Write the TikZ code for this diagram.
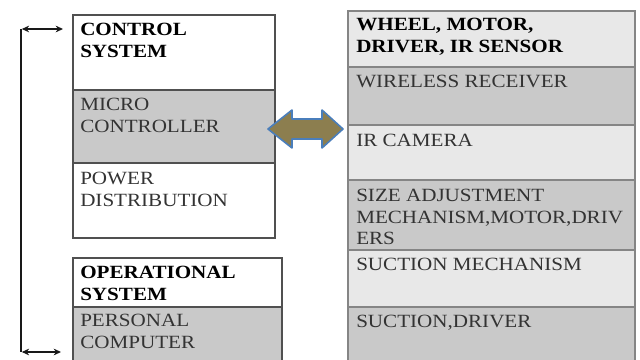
\documentclass[tikz,border=0pt]{standalone}
\usepackage{fontspec}
\setmainfont{Liberation Serif}[FakeStretch=1.13]
\usetikzlibrary{fit,arrows.meta}
\definecolor{lightc}{HTML}{E8E8E8}
\definecolor{darkc}{HTML}{C9C9C9}
\definecolor{txtg}{HTML}{333333}
\definecolor{brd}{HTML}{505050}
\definecolor{rbrd}{HTML}{858585}
\definecolor{arrowfill}{HTML}{8C7E4F}
\definecolor{arrowedge}{HTML}{4A7EBB}
\begin{document}
\begin{tikzpicture}[x=0.75pt,y=-0.75pt,
  cell/.style={draw=brd, line width=1.1pt, inner sep=0pt},
  rcell/.style={draw=rbrd, line width=1.4pt, inner sep=0pt},
  hdr/.style={anchor=north west, inner sep=0pt, align=left,
    font=\fontsize{14pt}{16.2pt}\selectfont\bfseries, text=black},
  body/.style={anchor=north west, inner sep=0pt, align=left,
    font=\fontsize{14pt}{16.2pt}\selectfont, text=txtg},
  link/.style={line width=1.7pt, draw=black!90},
  tip/.style={{Stealth[length=5.5pt,width=5pt]}-{Stealth[length=5.5pt,width=5pt]}},
]
\clip (0,0) rectangle (640,360);
\fill[white] (0,0) rectangle (640,360);

% left box: control system
\node[cell, fill=white, fit={(73,15) (275,90)}] (cs) {};
\node[cell, fill=darkc, fit={(73,90) (275,163)}] (mc) {};
\node[cell, fill=white, fit={(73,163) (275,238)}] (pd) {};
\node[hdr] (cst) at (80,23) {CONTROL\\SYSTEM};
\node[body] (mct) at (80,98) {MICRO\\CONTROLLER};
\node[body] (pdt) at (80,172) {POWER\\DISTRIBUTION};

% left box: operational system
\node[cell, fill=white, fit={(73,258) (282,307)}] (os) {};
\node[cell, fill=darkc, fit={(73,307) (282,372)}] (pc) {};
\node[hdr] (ost) at (80,266) {OPERATIONAL\\SYSTEM};
\node[body] (pct) at (80,314) {PERSONAL\\COMPUTER};

% right box
\node[rcell, fill=lightc, fit={(348,11) (635,67)}] (wm) {};
\node[rcell, fill=darkc, fit={(348,67) (635,125)}] (wr) {};
\node[rcell, fill=lightc, fit={(348,125) (635,180)}] (ir) {};
\node[rcell, fill=darkc, fit={(348,180) (635,250)}] (sa) {};
\node[rcell, fill=lightc, fit={(348,250) (635,307)}] (sm) {};
\node[rcell, fill=darkc, fit={(348,307) (635,372)}] (sd) {};
\node[hdr] (wmt) at (356,18) {WHEEL, MOTOR,\\DRIVER, IR SENSOR};
\node[body] (wrt) at (356,75) {WIRELESS RECEIVER};
\node[body] (irt) at (356,134) {IR CAMERA};
\node[body] (sat) at (356,189) {SIZE ADJUSTMENT\\MECHANISM,MOTOR,DRIV\\ERS};
\node[body] (smt) at (356,258) {SUCTION MECHANISM};
\node[body] (sdt) at (356,315) {SUCTION,DRIVER};

% double arrow between micro controller and right box
\draw[fill=arrowfill, draw=arrowedge, line width=1.2pt, line join=round]
  (268,129) -- (292,110) -- (292,119) -- (322,119) -- (322,110)
  -- (343,129) -- (322,148) -- (322,139) -- (292,139) -- (292,148) -- cycle;

% left bracket
\coordinate (ltop) at (21,29);
\coordinate (lbot) at (21,352);
\coordinate (atop) at (63,29);
\coordinate (abot) at (61,352);
\draw[link] (ltop) -- (lbot);
\draw[link, tip] ([xshift=0.6pt]ltop) -- (atop);
\draw[link, tip] ([xshift=0.6pt]lbot) -- (abot);
\end{tikzpicture}
\end{document}
